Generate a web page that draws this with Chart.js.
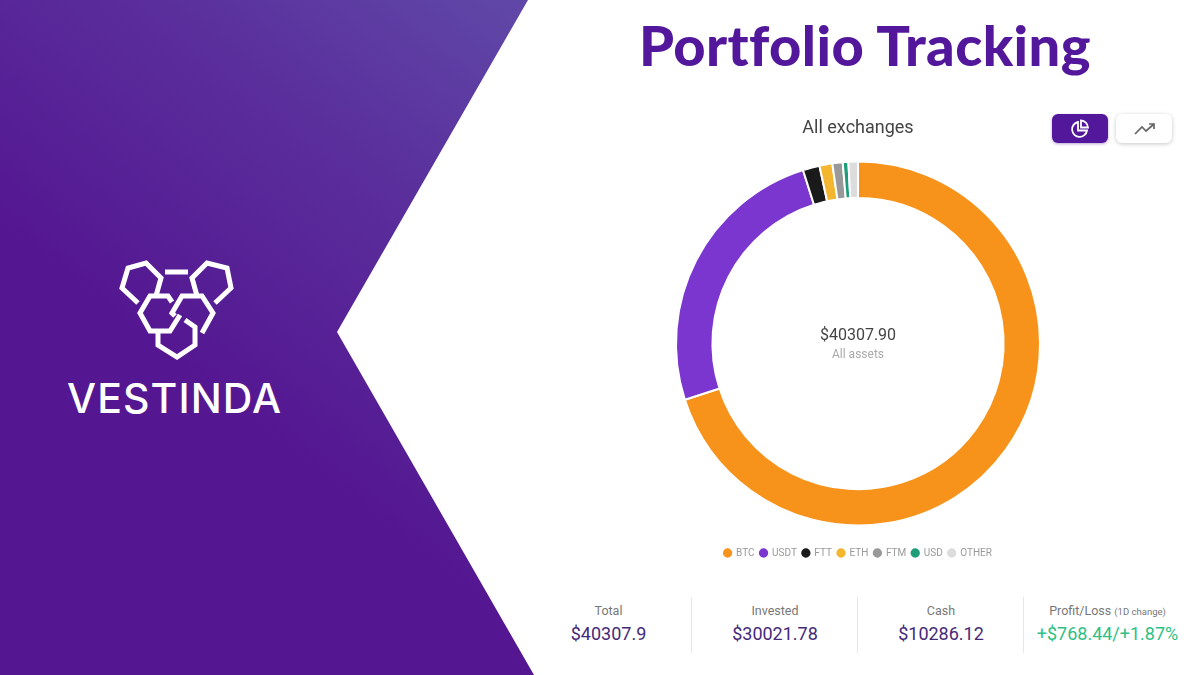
<!DOCTYPE html>
<html>
<head>
<meta charset="utf-8">
<title>Portfolio Tracking</title>
<script src="https://cdn.jsdelivr.net/npm/chart.js@4/dist/chart.umd.min.js"></script>
<style>
    html, body { margin: 0; padding: 0; background: #fff; }
    body { position: relative; width: 1200px; height: 675px; overflow: hidden; font-family: Roboto, sans-serif; }
    #panel {
        position: absolute; left: 0; top: 0; width: 540px; height: 675px;
        background: linear-gradient(38deg, #541691 0%, #541691 40%, #5a2f9c 73%, #6049a8 100%);
        clip-path: polygon(0 0, 528px 0, 337px 332px, 534px 675px, 0 675px);
    }
    #logo { position: absolute; left: 0; top: 0; }
    #brand { position: absolute; left: 67px; top: 373px; color: #fff; font: 500 41px Inter, sans-serif; letter-spacing: 1.1px; }
    h1 { position: absolute; left: 639px; top: 11px; margin: 0; color: #52179a; font: 900 56px Lato, sans-serif; white-space: nowrap; letter-spacing: 0.4px; }
    #wrap { position: absolute; left: 558px; top: 112px; width: 600px; height: 456px; }
    .btn { position: absolute; top: 114px; width: 56px; height: 29px; border-radius: 6px; box-sizing: border-box; }
    #btn-pie { left: 1052px; background: #52179a; box-shadow: 0 1px 3px rgba(82,23,154,.4); }
    #btn-line { left: 1116px; background: #fff; box-shadow: 0 1px 4px rgba(0,0,0,.22); }
    .btn svg { position: absolute; left: 0; top: 0; }
    .stat { position: absolute; top: 597px; height: 56px; text-align: center; white-space: nowrap; }
    .stat + .stat { border-left: 1px solid #e6e6e6; }
    .stat .label { position: absolute; left: 0; right: 0; top: 6px; color: #777; font-size: 12.5px; line-height: 16px; }
    .stat .label small { font-size: 9.5px; }
    .stat .value { position: absolute; left: 0; right: 0; top: 25px; color: #452a78; font-size: 18px; line-height: 24px; }
    .stat .value.up { color: #2fbf85; }
</style>
</head>
<body>
<div id="panel"></div>
<svg id="logo" width="340" height="420" fill="none" stroke="#fff" stroke-width="5" stroke-linejoin="miter">
    <polyline points="138,303 122,288 128,268 146,263 161,278 156,296"/>
    <polyline points="165,272 188,272"/>
    <polyline points="215,303 231,288 227,268 207,263 192,278 197,296"/>
    <polyline points="172,302 168,296 150,296 140,313 150,331 170,331 180,315"/>
    <polyline points="175,316 172,313 182,296 202,296 213,313 202,333"/>
    <polyline points="185,320 195,327 195,345 177,357 158,345 158,331"/>
</svg>
<div id="brand">VESTINDA</div>
<h1>Portfolio Tracking</h1>
<div id="wrap"><canvas id="donut" width="600" height="456"></canvas></div>
<div class="btn" id="btn-pie">
    <svg width="56" height="29" fill="none" stroke="#fff" stroke-width="1.8">
        <path d="M26 8 A7.5 7.5 0 1 0 35 16.5 L26 16.5 Z"/>
        <path d="M29 6.5 A7.5 7.5 0 0 1 36 13.5 L29 13.5 Z"/>
    </svg>
</div>
<div class="btn" id="btn-line">
    <svg width="56" height="29" fill="none" stroke="#666" stroke-width="1.7">
        <polyline points="19,20 26,13 30,17 38,10"/>
        <polyline points="33,10 38,10 38,15"/>
    </svg>
</div>
<div class="stat" style="left:526px;width:165px"><div class="label">Total</div><div class="value">$40307.9</div></div>
<div class="stat" style="left:691px;width:166px"><div class="label">Invested</div><div class="value">$30021.78</div></div>
<div class="stat" style="left:857px;width:166px"><div class="label">Cash</div><div class="value">$10286.12</div></div>
<div class="stat" style="left:1023px;width:167px"><div class="label">Profit/Loss <small>(1D change)</small></div><div class="value up">+$768.44/+1.87%</div></div>
<script>
const assets = ["BTC", "USDT", "FTT", "ETH", "FTM", "USD", "OTHER"]
const assetValues = [28220, 10120, 600, 460, 370, 200, 340]
const assetColors = ["#f7931a", "#7b36d0", "#1a1a1a", "#f3b62e", "#999999", "#1e9e78", "#dcdcdc"]

const centerText = {
    id: "centerText",
    afterDraw(chart) {
        const c = chart.ctx
        const arc = chart.getDatasetMeta(0).data[0]
        c.save()
        c.textAlign = "center"
        c.textBaseline = "middle"
        c.fillStyle = "#444"
        c.font = "16px Roboto"
        c.fillText("$40307.90", arc.x, arc.y - 8)
        c.fillStyle = "#aaa"
        c.font = "12px Roboto"
        c.fillText("All assets", arc.x, arc.y + 11)
        c.restore()
    }
}

new Chart(document.querySelector("#donut"), {
    type: "doughnut",
    data: {
        labels: assets,
        datasets: [{
            data: assetValues,
            backgroundColor: assetColors,
            borderColor: "#fff",
            borderWidth: 2,
            hoverOffset: 0
        }]
    },
    options: {
        responsive: false,
        animation: false,
        cutout: "80%",
        radius: 182,
        layout: { padding: 0 },
        plugins: {
            title: {
                display: true,
                text: "All exchanges",
                color: "#444",
                font: { family: "Roboto", size: 18, weight: "normal" },
                padding: { top: 6, bottom: 5 }
            },
            legend: {
                position: "bottom",
                labels: {
                    usePointStyle: true,
                    pointStyle: "circle",
                    boxWidth: 7,
                    boxHeight: 8,
                    padding: 5.5,
                    color: "#999",
                    font: { family: "Roboto", size: 10 }
                }
            },
            tooltip: { enabled: false }
        }
    },
    plugins: [centerText]
})
</script>
</body>
</html>
